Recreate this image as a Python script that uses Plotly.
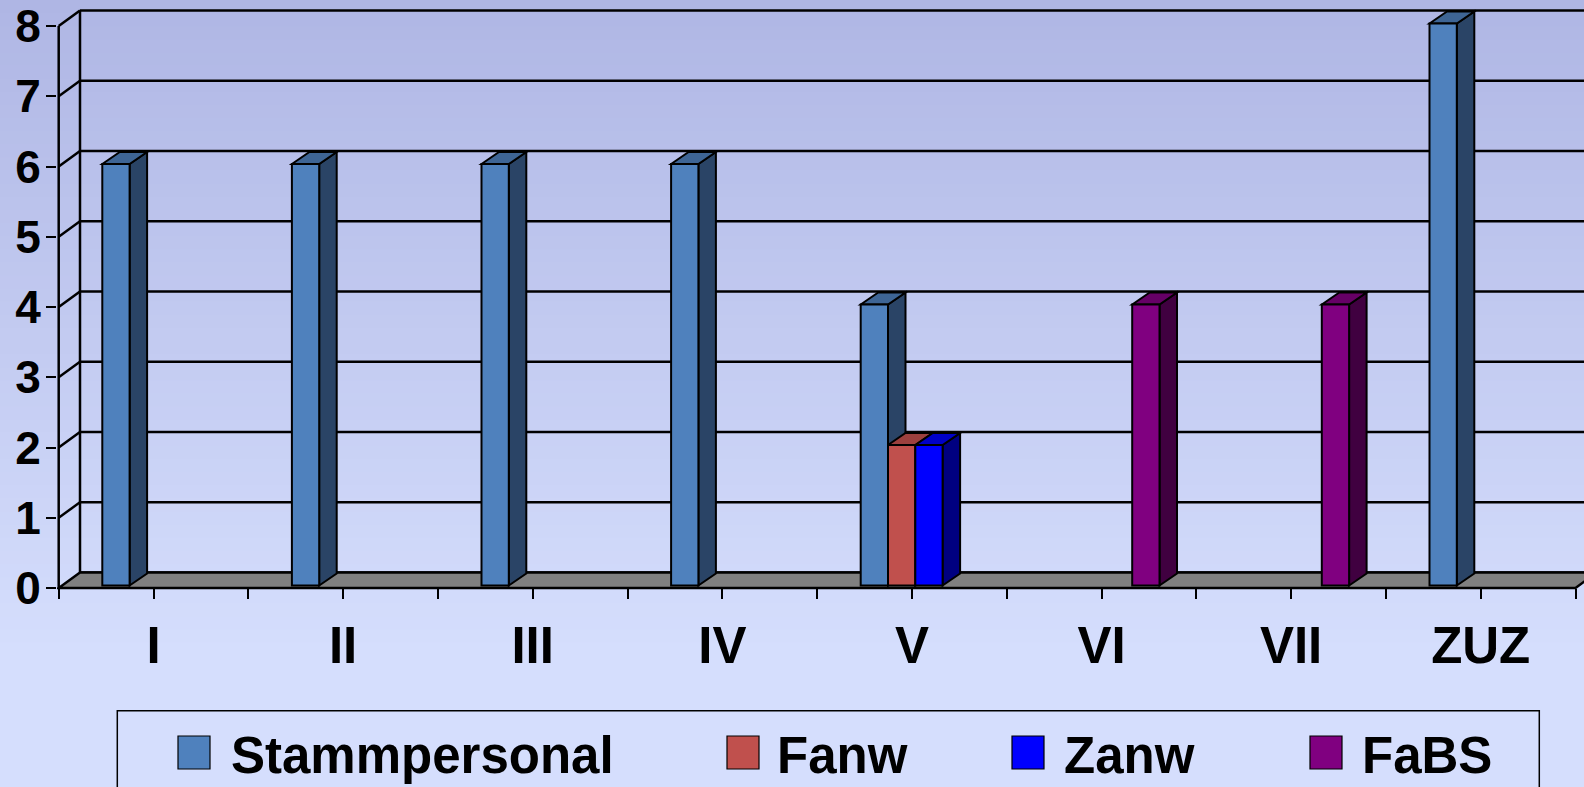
import plotly.graph_objects as go

# ---------------- data ----------------
categories = ["I", "II", "III", "IV", "V", "VI", "VII", "ZUZ"]
series_names = ["Stammpersonal", "Fanw", "Zanw", "FaBS"]
stammpersonal = [6, 6, 6, 6, 4, 0, 0, 8]
fanw = [0, 0, 0, 0, 2, 0, 0, 0]
zanw = [0, 0, 0, 0, 2, 0, 0, 0]
fabs = [0, 0, 0, 0, 0, 4, 4, 0]
y_ticks = [0, 1, 2, 3, 4, 5, 6, 7, 8]

series_values = [stammpersonal, fanw, zanw, fabs]
front_colors = ["#4F81BD", "#C0504D", "#0000FF", "#800080"]
side_colors = ["#2A4466", "#7A3331", "#000080", "#400040"]
top_colors = ["#3E6595", "#9C403E", "#0000C8", "#660066"]

# ---------------- geometry (pixel calibration) ----------------
W, H = 1584, 787
ML, MB, MT, MR = 57, 188, 0, 0
X0PX, UX = 58.7, 189.6      # data x=0 pixel, px per category
Y0PX, UY = 588.0, 70.25     # data y=0 pixel, px per unit
PLOT_BOTTOM = H - MB
xr = [(ML - X0PX) / UX, (W - MR - X0PX) / UX]
yr = [(Y0PX - PLOT_BOTTOM) / UY, Y0PX / UY]

WDX, WDY = 21.3 / UX, 15.5 / UY      # wall depth
SLOT = 27.3 / UX                      # bar width
BSX, BSY = 3.4 / UX, 2.5 / UY         # bar front-face depth shift
BDX, BDY = 17.5 / UX, 12.0 / UY       # bar depth
NCAT = len(categories)


def pxx(px):
    return (px - ML) / (W - ML - MR)


def pxy(py):
    return (PLOT_BOTTOM - py) / (PLOT_BOTTOM - MT)


shapes = []

# background vertical gradient
top_c = (175, 182, 228)
bot_c = (213, 222, 253)
nb = 60
for k in range(nb):
    y0p = H * k / nb
    y1p = H * (k + 1) / nb + 1
    t = min(((y0p + y1p) / 2) / 650.0, 1.0)
    c = tuple(int(round(top_c[j] + (bot_c[j] - top_c[j]) * t)) for j in range(3))
    shapes.append(dict(type="rect", xref="paper", yref="paper", layer="below",
                       x0=pxx(-5), x1=pxx(W + 5), y0=pxy(y1p), y1=pxy(y0p),
                       fillcolor="rgb(%d,%d,%d)" % c, line=dict(width=0)))

LINE = dict(color="#000000", width=2.5)

# back wall gridlines
for v in y_ticks:
    shapes.append(dict(type="line", xref="x", yref="y", layer="below",
                       x0=WDX, x1=NCAT + WDX, y0=v + WDY, y1=v + WDY, line=LINE))
# back wall left edge
shapes.append(dict(type="line", xref="x", yref="y", layer="below",
                   x0=WDX, x1=WDX, y0=WDY, y1=y_ticks[-1] + WDY, line=LINE))
# side wall diagonals
for v in y_ticks[1:]:
    shapes.append(dict(type="line", xref="x", yref="y", layer="below",
                       x0=0, x1=WDX, y0=v, y1=v + WDY, line=LINE))
# front-left axis line
shapes.append(dict(type="line", xref="x", yref="y", layer="below",
                   x0=0, x1=0, y0=0, y1=y_ticks[-1], line=LINE))
# floor
shapes.append(dict(type="path", xref="x", yref="y", layer="below",
                   path="M 0,0 L %f,0 L %f,%f L %f,%f Z" % (NCAT, NCAT + WDX, WDY, WDX, WDY),
                   fillcolor="#808080", line=LINE))

# 3D faces of bars (side + top), drawn through data coordinates
BAR_LINE = dict(color="#000000", width=2)
for i in range(NCAT):
    c = i + 0.5
    for s, vals in enumerate(series_values):
        v = vals[i]
        if not v:
            continue
        L = c - 2 * SLOT + s * SLOT + BSX
        R = L + SLOT
        B = BSY
        T = BSY + v
        shapes.append(dict(type="path", xref="x", yref="y", layer="below",
                           path="M %f,%f L %f,%f L %f,%f L %f,%f Z" % (
                               R, B, R + BDX, B + BDY, R + BDX, T + BDY, R, T),
                           fillcolor=side_colors[s], line=BAR_LINE))
        shapes.append(dict(type="path", xref="x", yref="y", layer="below",
                           path="M %f,%f L %f,%f L %f,%f L %f,%f Z" % (
                               L, T, L + BDX, T + BDY, R + BDX, T + BDY, R, T),
                           fillcolor=top_colors[s], line=BAR_LINE))

fig = go.Figure()
for s, (name, vals) in enumerate(zip(series_names, series_values)):
    fig.add_trace(go.Bar(
        name=name,
        x=[i + 0.5 + BSX for i in range(NCAT)],
        y=[v if v else None for v in vals],
        base=BSY,
        width=SLOT,
        offset=-2 * SLOT + s * SLOT,
        marker=dict(color=front_colors[s], line=BAR_LINE),
        showlegend=False,
    ))

# manual legend
legend_marker_x = [178, 727, 1012, 1310]
legend_text_x = [229, 775, 1062, 1360]
shapes.append(dict(type="rect", xref="paper", yref="paper", layer="above",
                   x0=pxx(117.3), x1=pxx(1539.3), y0=pxy(800), y1=pxy(710.7),
                   fillcolor="rgba(0,0,0,0)", line=dict(color="#000000", width=1.5)))
annotations = []
for s, name in enumerate(series_names):
    mx = legend_marker_x[s]
    shapes.append(dict(type="rect", xref="paper", yref="paper", layer="above",
                       x0=pxx(mx), x1=pxx(mx + 32), y0=pxy(769), y1=pxy(736),
                       fillcolor=front_colors[s], line=dict(color="#000000", width=1.2)))
    annotations.append(dict(xref="paper", yref="paper", x=pxx(legend_text_x[s]), y=pxy(755),
                            xanchor="left", yanchor="middle", showarrow=False, text=name,
                            font=dict(family="Liberation Sans, Arial", size=51, color="#000000",
                                      weight="bold")))

xtickvals = []
xticktext = []
for i in range(NCAT):
    xtickvals += [i, i + 0.5]
    xticktext += ["", categories[i]]
xtickvals.append(NCAT)
xticktext.append("")

fig.update_layout(
    width=W, height=H,
    margin=dict(l=ML, r=MR, t=MT, b=MB, pad=0, autoexpand=False),
    paper_bgcolor="rgb(213,222,253)",
    plot_bgcolor="rgba(0,0,0,0)",
    barmode="overlay",
    showlegend=False,
    shapes=shapes,
    annotations=annotations,
    xaxis=dict(range=xr, showgrid=False, zeroline=False, showline=False, automargin=False,
               tickmode="array", tickvals=xtickvals, ticktext=xticktext,
               ticks="inside", ticklen=10, tickwidth=2, tickcolor="#000000",
               ticklabelstandoff=12,
               tickfont=dict(family="Liberation Sans, Arial", size=51, color="#000000", weight="bold"),
               fixedrange=True),
    yaxis=dict(range=yr, showgrid=False, zeroline=False, showline=False, automargin=False,
               tickmode="array", tickvals=y_ticks, ticktext=[str(v) for v in y_ticks],
               ticks="outside", ticklen=10, tickwidth=2, tickcolor="#000000",
               ticklabelstandoff=-4,
               tickfont=dict(family="Liberation Sans, Arial", size=46, color="#000000", weight="bold"),
               fixedrange=True),
)

fig.write_html(
    "out.html",
    config={"displayModeBar": False},
    post_script="document.body.style.margin='0';document.body.style.overflow='hidden';",
)
